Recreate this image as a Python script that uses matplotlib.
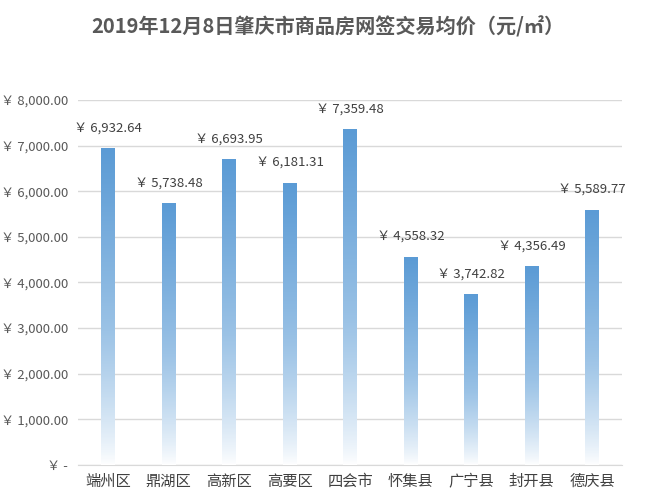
import numpy as np
import matplotlib.pyplot as plt
from matplotlib.colors import LinearSegmentedColormap

plt.rcParams['font.family'] = ['Noto Sans CJK SC', 'DejaVu Sans']

districts = ['端州区', '鼎湖区', '高新区', '高要区', '四会市', '怀集县', '广宁县', '封开县', '德庆县']
prices = [6932.64, 5738.48, 6693.95, 6181.31, 7359.48, 4558.32, 3742.82, 4356.49, 5589.77]
yticks = [0, 1000, 2000, 3000, 4000, 5000, 6000, 7000, 8000]
title = '2019年12月8日肇庆市商品房网签交易均价（元/㎡）'

fig = plt.figure(figsize=(6.55, 4.93), dpi=100)
ax = fig.add_axes([0.119, 0.057, 0.831, 0.74])

cmap = LinearSegmentedColormap.from_list('fade', ['#ffffff', '#9cc3e6', '#5b9bd5'])
grad = np.linspace(1, 0, 256).reshape(-1, 1) ** 0.8
w = 0.23
x = np.arange(len(districts))
for i, v in enumerate(prices):
    ax.imshow(grad, cmap=cmap, vmin=0, vmax=1, aspect='auto',
              extent=(x[i] - w / 2, x[i] + w / 2, 0, v), zorder=3)
    ax.annotate('￥ ' + f'{v:,.2f}', (x[i], v), xytext=(0, 10), textcoords='offset points',
                ha='center', va='bottom', fontsize=9.5, color='#404040', zorder=4)

ax.set_xlim(-0.5, len(districts) - 0.5)
ax.set_ylim(0, 8000)
ax.set_yticks(yticks)
ax.set_yticklabels(['￥ -' if t == 0 else '￥ ' + f'{t:,.2f}' for t in yticks])
ax.set_xticks(x)
ax.set_xticklabels(districts)
ax.tick_params(axis='y', length=0, labelsize=9.5, labelcolor='#595959', pad=7)
ax.tick_params(axis='x', length=0, labelsize=11, labelcolor='#404040', pad=6)
ax.grid(axis='y', color='#d9d9d9', linewidth=1, zorder=0)
ax.set_axisbelow(True)
for s in ['top', 'right', 'left']:
    ax.spines[s].set_visible(False)
ax.spines['bottom'].set_color('#d9d9d9')

fig.text(0.5, 0.945, title, ha='center', va='center', fontsize=14.5,
         fontweight='bold', color='#595959')

fig.savefig('out.png', dpi=100)
